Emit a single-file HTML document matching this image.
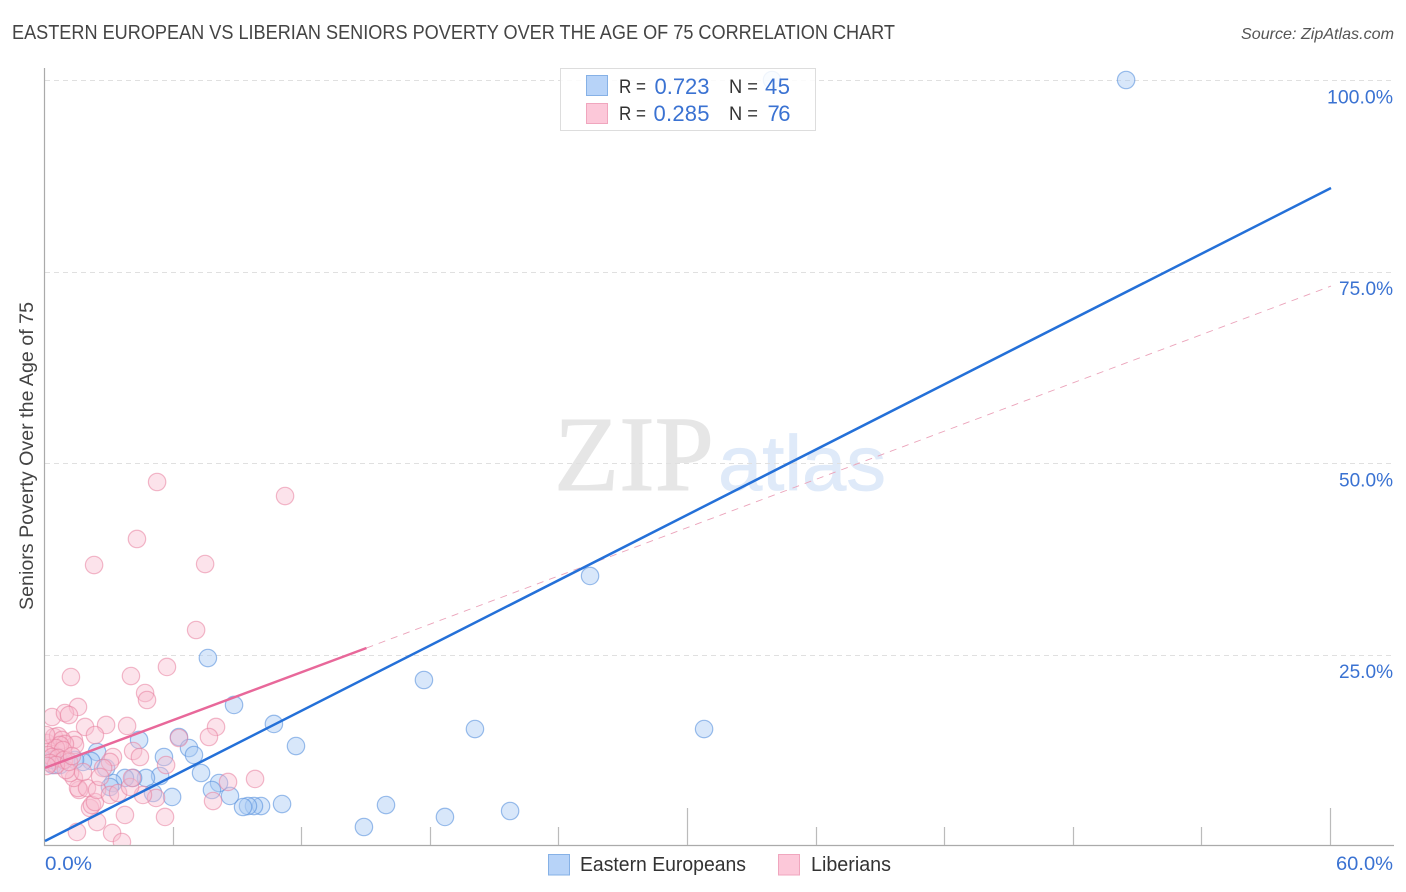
<!DOCTYPE html>
<html>
<head>
<meta charset="utf-8">
<title>Eastern European vs Liberian Seniors Poverty Correlation Chart</title>
<style>
html,body{margin:0;padding:0;background:#fff;width:1406px;height:892px;overflow:hidden}
svg{display:block;font-family:"Liberation Sans",sans-serif}
</style>
</head>
<body>
<svg id="chart" width="1406" height="892" viewBox="0 0 1406 892" xmlns="http://www.w3.org/2000/svg">
  <defs><clipPath id="plot-clip"><rect x="45" y="68" width="1349" height="777"/></clipPath></defs>
  <text x="12" y="39" font-size="20" fill="#444" textLength="883" lengthAdjust="spacingAndGlyphs">EASTERN EUROPEAN VS LIBERIAN SENIORS POVERTY OVER THE AGE OF 75 CORRELATION CHART</text>
  <text x="1241" y="39" font-size="16" font-style="italic" fill="#555" textLength="153" lengthAdjust="spacingAndGlyphs">Source: ZipAtlas.com</text>
  <g>
    <text x="554" y="490" font-family="'Liberation Serif',serif" font-size="107" fill="#e6e6e6" stroke="#e6e6e6" stroke-width="1" textLength="160" lengthAdjust="spacingAndGlyphs">ZIP</text>
    <text x="718" y="490" font-size="78" fill="#dfeaf9" stroke="#dfeaf9" stroke-width="0.8" textLength="168" lengthAdjust="spacingAndGlyphs">atlas</text>
  </g>
  <g id="grid"></g>
  <g id="axes"></g>
  <g id="marks" clip-path="url(#plot-clip)"></g>
  <g id="trends"></g>
  <text transform="translate(33,610) rotate(-90)" font-size="19.5" fill="#444" textLength="308" lengthAdjust="spacingAndGlyphs">Seniors Poverty Over the Age of 75</text>
  <g>
    <rect x="560.5" y="68.5" width="255" height="62" fill="#fff" fill-opacity="0.85" stroke="#ddd"/>
    <rect x="586.5" y="75.5" width="21" height="20" fill="#b7d3f8" stroke="#86b1e6"/>
    <rect x="586.5" y="103.5" width="21" height="20" fill="#fcc8d9" stroke="#f0a6be"/>
    <text x="619" y="93" font-size="19.5" fill="#333" textLength="27" lengthAdjust="spacingAndGlyphs">R =</text>
    <text x="654.5" y="94" font-size="22" fill="#3a72d2" textLength="55">0.723</text>
    <text x="729" y="93" font-size="19.5" fill="#333" textLength="29" lengthAdjust="spacingAndGlyphs">N =</text>
    <text x="765" y="94" font-size="22" fill="#3a72d2" textLength="25">45</text>
    <text x="619" y="120" font-size="19.5" fill="#333" textLength="27" lengthAdjust="spacingAndGlyphs">R =</text>
    <text x="653.5" y="121" font-size="22" fill="#3a72d2" textLength="56">0.285</text>
    <text x="729" y="120" font-size="19.5" fill="#333" textLength="29" lengthAdjust="spacingAndGlyphs">N =</text>
    <text x="767.5" y="121" font-size="22" fill="#3a72d2" textLength="23">76</text>
  </g>
  <g>
    <rect x="548.5" y="854.5" width="21" height="20.5" fill="#b7d3f8" stroke="#86b1e6"/>
    <text x="580" y="871" font-size="20" fill="#333" textLength="166" lengthAdjust="spacingAndGlyphs">Eastern Europeans</text>
    <rect x="778.5" y="854.5" width="21" height="20.5" fill="#fcc8d9" stroke="#f0a6be"/>
    <text x="811" y="871" font-size="20" fill="#333" textLength="80" lengthAdjust="spacingAndGlyphs">Liberians</text>
  </g>
</svg>
<script>
const yTickValues = [25, 50, 75, 100];
const yTickLabels = ["25.0%", "50.0%", "75.0%", "100.0%"];
const xTickValues = [6, 12, 18, 24, 30, 36, 42, 48, 54, 60];
const xMajorTicks = [30, 60];
const xEndValues = [0, 60];
const xEndLabels = ["0.0%", "60.0%"];

const easternX = [50.44,33.92,25.43,7.6,17.68,30.75,8.82,10.68,11.71,20.06,21.7,18.66,15.91,14.88,11.06,10.08,9.75,9.47,9.24,8.63,6.25,6.72,6.95,7.28,8.12,7.79,5.93,4.39,5.55,5.37,4.71,5.04,4.11,3.73,3.17,3.03,2.43,2.15,1.77,1.4,2.85,0.37,0.33,0.56,0.7];
const easternY = [100,100,35.25,24.54,21.67,15.27,18.41,15.93,13.05,15.27,4.57,3.79,5.35,2.48,5.48,5.22,5.22,5.22,5.09,6.53,14.23,12.79,11.88,9.53,8.22,7.31,6.4,13.84,11.62,9.14,8.88,6.92,8.88,8.88,8.22,7.7,12.27,11.1,10.97,11.23,10.18,10.57,11.23,11.62,10.57];

const liberianX = [5.23,11.2,4.29,2.29,7.47,7.05,5.69,1.21,4.01,4.67,4.76,1.54,0.33,0.93,1.12,1.87,2.85,3.83,2.33,1.35,1.4,4.11,4.43,3.17,3.03,5.65,6.25,7.98,7.65,8.54,9.8,7.84,5.6,5.18,4.57,3.73,2.43,3.13,3.59,1.49,2.1,2.19,2.33,1.59,1.54,1.35,1.17,1.96,2.43,2.71,2.57,3.03,3.41,3.97,4.06,1.77,0.98,0.09,0.23,0.42,0.61,0.79,0.93,0.7,0.51,0.84,0.14,0.33,0.61,0.89,0.23,0.51,0.09,1.12,1.26,0.05];
const liberianY = [47.52,45.69,40.08,36.68,36.81,28.2,23.37,22.06,22.19,19.97,19.06,18.15,16.84,17.36,17.1,15.54,15.8,15.67,14.49,13.84,13.19,12.4,11.62,11.62,10.97,10.57,14.1,15.54,14.23,8.36,8.75,5.87,3.79,6.27,6.66,4.05,3.13,1.7,0.52,1.83,4.96,5.35,5.74,7.31,7.57,8.88,9.53,7.57,7.31,10.18,9.01,6.66,6.92,7.7,8.88,9.66,9.92,13.45,12.79,14.23,14.36,13.84,13.32,13.19,12.79,12.53,11.88,11.62,11.49,11.23,10.84,10.57,10.44,10.97,11.75,14.49];

const easternTrendX = [0, 60];
const easternTrendY = [0.65, 85.9];
const liberianSolidX = [0, 15];
const liberianSolidY = [10.2, 25.85];
const liberianDashX = [15, 60];
const liberianDashY = [25.85, 73.1];

const NS = "http://www.w3.org/2000/svg";
const sx = v => 45 + v * (1331 - 45) / 60;
const sy = v => 846 - v * (846 - 80) / 100;
function mk(tag, attrs, parent) {
  const el = document.createElementNS(NS, tag);
  for (const k in attrs) el.setAttribute(k, attrs[k]);
  parent.appendChild(el);
  return el;
}
const grid = document.getElementById("grid");
const axes = document.getElementById("axes");
const marks = document.getElementById("marks");
const trends = document.getElementById("trends");

yTickValues.forEach((v, i) => {
  const y = Math.round(sy(v)) + 0.5;
  const line = mk("line", {x1: 45, x2: 1394, y1: y, y2: y, stroke: "#e0e0e0", "stroke-width": 1, "stroke-dasharray": "5 4"}, grid);
  
  
  const t = mk("text", {x: 1393, y: sy(v) + 23.5, "font-size": 19, fill: "#3a72d2", "text-anchor": "end", textLength: yTickLabels[i].length === 6 ? 66 : 54, lengthAdjust: "spacingAndGlyphs"}, axes);
  
  
  t.textContent = yTickLabels[i];
});

const yAxis = mk("line", {x1: 44.5, x2: 44.5, y1: 68, y2: 846, stroke: "#aaa", "stroke-width": 1.2}, axes);


const xAxis = mk("line", {x1: 44, x2: 1394, y1: 845.5, y2: 845.5, stroke: "#aaa", "stroke-width": 1.2}, axes);



xTickValues.forEach(v => {
  const x = Math.round(sx(v) - 1) + 0.5;
  const top = xMajorTicks.includes(v) ? 808 : 827;
  const tick = mk("line", {x1: x, x2: x, y1: top, y2: 845, stroke: "#bbb", "stroke-width": 1.2}, axes);
  
  
});
xEndValues.forEach((v, i) => {
  const t = mk("text", {x: i === 0 ? sx(v) : 1336, y: 870, "font-size": 19, fill: "#3a72d2", textLength: i === 0 ? 47 : 57, lengthAdjust: "spacingAndGlyphs"}, axes);
  
  
  t.textContent = xEndLabels[i];
});

easternX.forEach((v, i) => {
  const c = mk("circle", {cx: sx(v), cy: sy(easternY[i]), r: 8.7, fill: "#a9c9f3", "fill-opacity": 0.45, stroke: "#5a92de", "stroke-opacity": 0.6, "stroke-width": 1.2}, marks);
  
  
});
liberianX.forEach((v, i) => {
  const c = mk("circle", {cx: sx(v), cy: sy(liberianY[i]), r: 8.7, fill: "#f9bdd0", "fill-opacity": 0.42, stroke: "#e8809f", "stroke-opacity": 0.55, "stroke-width": 1.2}, marks);
  
  
});

const dash = mk("line", {x1: sx(liberianDashX[0]), y1: sy(liberianDashY[0]), x2: sx(liberianDashX[1]), y2: sy(liberianDashY[1]), stroke: "#eba3ba", "stroke-width": 0.9, "stroke-dasharray": "7 6"}, trends);


const pinkLine = mk("line", {x1: sx(liberianSolidX[0]), y1: sy(liberianSolidY[0]), x2: sx(liberianSolidX[1]), y2: sy(liberianSolidY[1]), stroke: "#e8689a", "stroke-width": 2.5}, trends);


const blueLine = mk("line", {x1: sx(easternTrendX[0]), y1: sy(easternTrendY[0]), x2: sx(easternTrendX[1]), y2: sy(easternTrendY[1]), stroke: "#2470d8", "stroke-width": 2.5}, trends);


</script>
</body>
</html>
